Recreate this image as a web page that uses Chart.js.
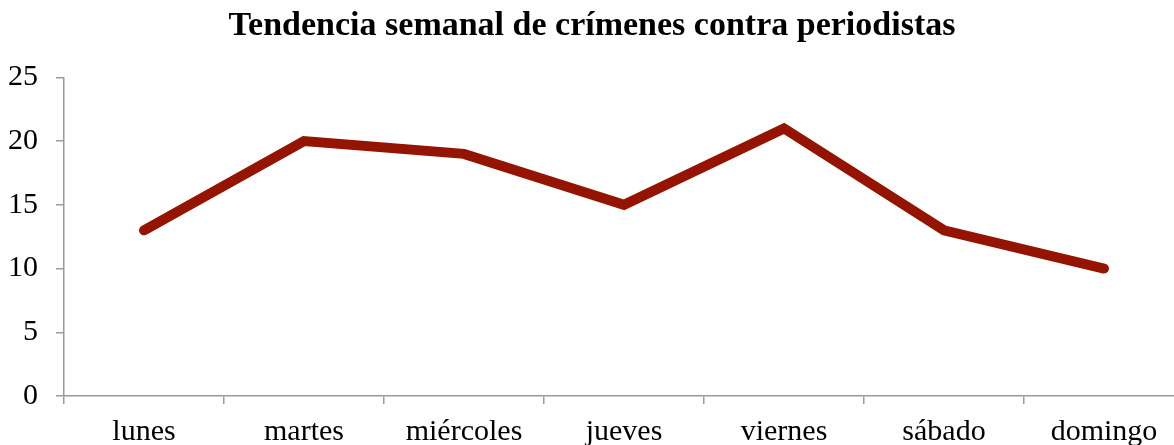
<!DOCTYPE html>
<html lang="es">
<head>
<meta charset="utf-8">
<title>Tendencia semanal de crímenes contra periodistas</title>
<script src="https://cdn.jsdelivr.net/npm/chart.js@4/dist/chart.umd.min.js"></script>
<style>
    html, body { margin: 0; padding: 0; background: #fff; overflow: hidden; }
    #trendChart { display: block; }
</style>
</head>
<body>
<canvas id="trendChart" width="1200" height="445"></canvas>
<script>
// datos del gráfico
const dias = ['lunes', 'martes', 'miércoles', 'jueves', 'viernes', 'sábado', 'domingo'];
const crimenes = [13, 20, 19, 15, 21, 13, 10];
const ejeY = [0, 5, 10, 15, 20, 25];

const titulo = 'Tendencia semanal de crímenes contra periodistas';
const colorLinea = '#941400';
const colorEje = '#9a9a9a';
const fuente = "'Liberation Serif', 'Times New Roman', serif";

const ctx = document.getElementById('trendChart');

new Chart(ctx, {
    type: 'line',
    data: {
        labels: dias,
        datasets: [{
            label: 'Crímenes',
            data: crimenes,
            borderColor: colorLinea,
            backgroundColor: colorLinea,
            borderWidth: 10,
            borderCapStyle: 'round',
            borderJoinStyle: 'miter',
            pointRadius: 0,
            pointHoverRadius: 0,
            tension: 0,
            fill: false
        }]
    },
    options: {
        responsive: false,
        animation: false,
        devicePixelRatio: 1,
        layout: { padding: { left: 0, right: 16, top: 0, bottom: 0 } },
        plugins: {
            legend: { display: false },
            tooltip: { enabled: false },
            title: {
                display: true,
                text: titulo,
                color: '#000',
                font: { family: fuente, size: 34, weight: 'bold', lineHeight: 1.1 },
                padding: { top: 8, bottom: 32 }
            }
        },
        scales: {
            x: {
                offset: true,
                grid: {
                    offset: true,
                    drawOnChartArea: false,
                    tickLength: 8,
                    color: colorEje,
                    lineWidth: 1.5
                },
                border: { color: colorEje, width: 1.5 },
                ticks: {
                    color: '#000',
                    padding: 10,
                    maxRotation: 0,
                    autoSkip: false,
                    font: { family: fuente, size: 30 }
                },
                afterFit: (scale) => { scale.height = 49; }
            },
            y: {
                min: ejeY[0],
                max: ejeY[ejeY.length - 1],
                afterBuildTicks: (scale) => {
                    scale.ticks = ejeY.map(v => ({ value: v }));
                },
                grid: {
                    drawOnChartArea: false,
                    tickLength: 8,
                    color: colorEje,
                    lineWidth: 1.5
                },
                border: { color: colorEje, width: 1.5 },
                ticks: {
                    color: '#000',
                    padding: 18,
                    font: { family: fuente, size: 30 }
                },
                afterFit: (scale) => { scale.width = 64; }
            }
        }
    }
});
</script>
</body>
</html>
